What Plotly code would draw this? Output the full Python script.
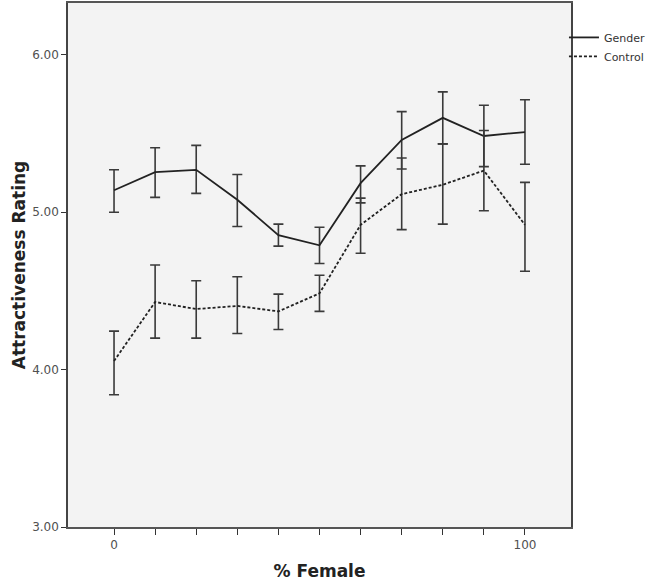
import plotly.graph_objects as go

pct_female = [0, 10, 20, 30, 40, 50, 60, 70, 80, 90, 100]

gender_mean = [5.14, 5.255, 5.27, 5.08, 4.855, 4.79, 5.185, 5.46, 5.60, 5.485, 5.51]
gender_upper = [5.27, 5.41, 5.425, 5.24, 4.925, 4.905, 5.295, 5.64, 5.765, 5.68, 5.715]
gender_lower = [5.0, 5.095, 5.12, 4.91, 4.785, 4.675, 5.06, 5.275, 5.435, 5.29, 5.305]

control_mean = [4.055, 4.43, 4.385, 4.405, 4.37, 4.485, 4.92, 5.115, 5.175, 5.265, 4.92]
control_upper = [4.245, 4.665, 4.565, 4.59, 4.48, 4.60, 5.09, 5.345, 5.435, 5.52, 5.19]
control_lower = [3.84, 4.2, 4.2, 4.23, 4.255, 4.37, 4.74, 4.89, 4.925, 5.01, 4.625]

y_ticks = [3, 4, 5, 6]
x_ticks = [0, 10, 20, 30, 40, 50, 60, 70, 80, 90, 100]
x_ticktext = ["0", "", "", "", "", "", "", "", "", "", "100"]

FONT = "DejaVu Sans"


def err(mean, upper, lower):
    return dict(
        type="data",
        symmetric=False,
        array=[u - m for u, m in zip(upper, mean)],
        arrayminus=[m - l for m, l in zip(mean, lower)],
        color="#3a3a3a",
        thickness=1.6,
        width=5,
    )


fig = go.Figure()
fig.add_trace(go.Scatter(
    x=pct_female, y=gender_mean, name="Gender", mode="lines",
    line=dict(color="#222222", width=1.8),
    error_y=err(gender_mean, gender_upper, gender_lower),
))
fig.add_trace(go.Scatter(
    x=pct_female, y=control_mean, name="Control", mode="lines",
    line=dict(color="#222222", width=1.8, dash="3px,2px"),
    error_y=err(control_mean, control_upper, control_lower),
))

fig.update_layout(
    width=651, height=582,
    margin=dict(l=68, r=80, t=3, b=55, autoexpand=False),
    paper_bgcolor="white",
    plot_bgcolor="#f3f3f3",
    font=dict(family=FONT, color="#444444"),
    showlegend=True,
    legend=dict(
        x=0.986, xanchor="left", y=0.962, yanchor="top",
        font=dict(size=11, color="#333333", family=FONT),
        bgcolor="rgba(0,0,0,0)",
        itemwidth=30,
        tracegroupgap=0,
    ),
)

fig.update_xaxes(
    range=[-11.2, 111.2],
    tickvals=x_ticks, ticktext=x_ticktext,
    ticks="outside", ticklen=6, tickwidth=1.3, tickcolor="#333333",
    tickfont=dict(size=12, color="#505050"),
    showgrid=False, zeroline=False,
    showline=True, linecolor="#555555", linewidth=1.5, mirror=True,
    title=dict(text="<b>% Female</b>", font=dict(size=17, color="#222222"), standoff=14),
)
fig.update_yaxes(
    range=[3, 6.33],
    tickvals=y_ticks, tickformat=".2f",
    ticks="outside", ticklen=5, tickwidth=1.3, tickcolor="#333333",
    tickfont=dict(size=12, color="#505050"),
    showgrid=False, zeroline=False,
    showline=True, linecolor="#444444", linewidth=1.5, mirror=True,
    title=dict(text="<b>Attractiveness Rating</b>", font=dict(size=17, color="#222222"), standoff=2),
)

fig.write_html(
    "out.html",
    config={"displayModeBar": False},
    post_script="document.body.style.margin='0';document.body.style.padding='0';",
)
